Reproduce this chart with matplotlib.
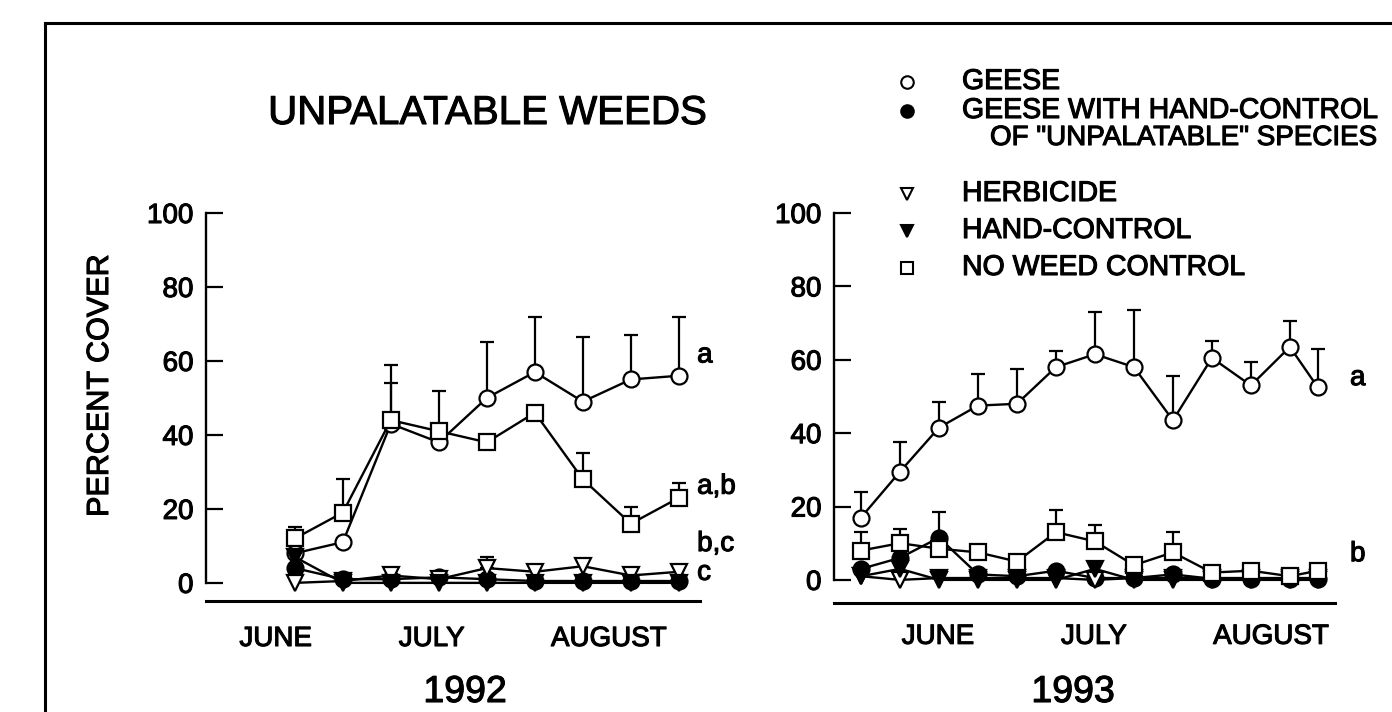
import numpy as np
import matplotlib
matplotlib.use("Agg")
import matplotlib.pyplot as plt
import matplotlib.patheffects as pe
from matplotlib.lines import Line2D
from matplotlib.text import Text

plt.rcParams['font.family'] = ['Liberation Sans', 'DejaVu Sans']

# sampling dates, days after 1 June
days_1992 = [18, 28, 38, 48, 58, 68, 78, 88, 98]
days_1993 = [0, 7, 14, 21, 28, 35, 42, 49, 56, 63, 70, 77, 82]
month_names = ['JUNE', 'JULY', 'AUGUST']
month_pos_1992 = [14.0, 46.5, 83.4]
month_pos_1993 = [13.8, 41.8, 73.6]

# 1992 percent cover, mean and upper standard error
geese_1992 = [8, 11, 43, 38, 50, 57, 49, 55, 56]
geese_1992_se = [0, 0, 16, 0, 15, 15, 17.5, 12, 16]
geese_hand_1992 = [4, 1, 1, 1.5, 1, 0.5, 0.5, 0.5, 0.5]
geese_hand_1992_se = [0, 0, 0, 0, 0, 0, 0, 0, 0]
herbicide_1992 = [0, 0.5, 2, 1, 4, 3, 4.5, 2, 3]
herbicide_1992_se = [0, 0, 0, 0, 3, 0, 0, 0, 0]
hand_1992 = [7, 0, 0, 0, 0, 0, 0, 0, 0]
hand_1992_se = [0, 0, 0, 0, 0, 0, 0, 0, 0]
noweed_1992 = [12, 19, 44, 41, 38, 46, 28, 16, 23]
noweed_1992_se = [3, 9, 10, 11, 0, 0, 7, 4.5, 4]

# 1993
geese_1993 = [17, 29.5, 41.5, 47.5, 48, 58, 61.5, 58, 43.5, 60.5, 53, 63.5, 52.5]
geese_1993_se = [7, 8, 7, 8.5, 9.5, 4.5, 11.5, 15.5, 12, 4.5, 6.5, 7, 10.5]
geese_hand_1993 = [3, 6, 11.5, 1.5, 1, 2.5, 0.5, 0.5, 1.5, 0.3, 0.3, 0.3, 0.3]
geese_hand_1993_se = [0, 0, 7, 0, 0, 0, 0, 0, 0, 0, 0, 0, 0]
herbicide_1993 = [1, 0, 0.5, 0.5, 0.5, 0.5, 0, 0.5, 0.5, 0.5, 0.5, 0.5, 0.5]
herbicide_1993_se = [0] * 13
hand_1993 = [1, 3, 0, 0, 0, 0, 3, 0, 0, 0, 0, 0, 0]
hand_1993_se = [0] * 13
noweed_1993 = [8, 10, 8.5, 7.5, 5, 13, 10.5, 4, 7.5, 2, 2.5, 1, 2.5]
noweed_1993_se = [5, 4, 0, 0, 0, 6, 4.5, 0, 5.5, 0, 0, 0, 0]

labels_1992 = [('a', 61.5), ('a,b', 26), ('b,c', 10.5), ('c', 2.7)]
labels_1993 = [('a', 55), ('b', 7)]

legend_names = ['GEESE', 'GEESE WITH HAND-CONTROL', 'HERBICIDE', 'HAND-CONTROL', 'NO WEED CONTROL']

W, H = 1392, 712
fig = plt.figure(figsize=(W / 100, H / 100), dpi=100)


def fx(x):
    return x / W


def fy(y):
    return 1 - y / H


# scan frame
fig.add_artist(Line2D([fx(45), fx(45)], [fy(23), 0], transform=fig.transFigure, color='black', lw=2.2))
fig.add_artist(Line2D([fx(45), 1], [fy(23), fy(23)], transform=fig.transFigure, color='black', lw=2.2))

styles = [
    dict(marker='o', mfc='white'),
    dict(marker='o', mfc='black'),
    dict(marker='v', mfc='white'),
    dict(marker='v', mfc='black'),
    dict(marker='s', mfc='white'),
]


def draw_panel(ax, days, series, ylow, xlim, month_pos, month_pad):
    for (vals, se), st in zip(series, styles):
        vals = np.array(vals, dtype=float)
        se = np.array(se, dtype=float)
        ax.plot(days, vals, color='black', lw=1.7, ms=11.5, mec='black', mew=1.6,
                zorder=3, clip_on=False, **st)
        m = se > 0
        if m.any():
            ax.errorbar(np.array(days)[m], vals[m], yerr=[np.zeros(m.sum()), se[m]],
                        fmt='none', ecolor='black', elinewidth=1.6, capsize=5,
                        capthick=1.6, zorder=2)
    ax.set_ylim(ylow, 100)
    ax.set_xlim(*xlim)
    ax.spines['top'].set_visible(False)
    ax.spines['right'].set_visible(False)
    ax.spines['left'].set_bounds(0, 100)
    ax.spines['left'].set_linewidth(1.7)
    ax.spines['bottom'].set_linewidth(2.2)
    ax.set_yticks([0, 20, 40, 60, 80, 100])
    ax.tick_params(axis='y', direction='in', length=12, width=1.6, pad=9, labelsize=20)
    ax.set_xticks(month_pos)
    ax.set_xticklabels(month_names)
    ax.tick_params(axis='x', length=0, pad=month_pad, labelsize=20)
    ax.patch.set_alpha(0)


ax1 = fig.add_axes([fx(206), fy(601), fx(700) - fx(206), fy(213) - fy(601)])
draw_panel(ax1, days_1992,
           [(geese_1992, geese_1992_se), (geese_hand_1992, geese_hand_1992_se),
            (herbicide_1992, herbicide_1992_se), (hand_1992, hand_1992_se),
            (noweed_1992, noweed_1992_se)],
           -4.9, (-0.5, 102.4), month_pos_1992, 18)

ax2 = fig.add_axes([fx(834), fy(603), fx(1335) - fx(834), fy(213) - fy(603)])
draw_panel(ax2, days_1993,
           [(geese_1993, geese_1993_se), (geese_hand_1993, geese_hand_1993_se),
            (herbicide_1993, herbicide_1993_se), (hand_1993, hand_1993_se),
            (noweed_1993, noweed_1993_se)],
           -6.3, (-4.85, 85.1), month_pos_1993, 15)

for txt, yv in labels_1992:
    ax1.text(101.8, yv, txt, fontsize=20, va='center', ha='left', clip_on=False)
for txt, yv in labels_1993:
    ax2.text(87.8, yv, txt, fontsize=20, va='center', ha='left', clip_on=False)

fig.text(fx(100), fy(386), 'PERCENT COVER', rotation=90, fontsize=22, ha='center', va='center')
fig.text(fx(487), fy(113), 'UNPALATABLE WEEDS', fontsize=29, ha='center', va='center')
fig.text(fx(465), fy(692), '1992', fontsize=27, ha='center', va='center')
fig.text(fx(1073), fy(692), '1993', fontsize=27, ha='center', va='center')

# legend
leg_rows = [82, 111, 194, 231, 268]
for name, st, y in zip(legend_names, styles, leg_rows):
    fig.add_artist(Line2D([fx(907)], [fy(y)], transform=fig.transFigure, ls='none',
                          ms=9, mec='black', mew=1.5, color='black', **st))
    fig.text(fx(962), fy(y), name, fontsize=20.5, ha='left', va='center')
fig.text(fx(990), fy(138), 'OF "UNPALATABLE" SPECIES', fontsize=20, ha='left', va='center')

# printed/scanned look: slightly heavier glyphs
for t in fig.findobj(Text):
    t.set_path_effects([pe.withStroke(linewidth=0.8, foreground='black')])

plt.savefig('out.png', dpi=100)
